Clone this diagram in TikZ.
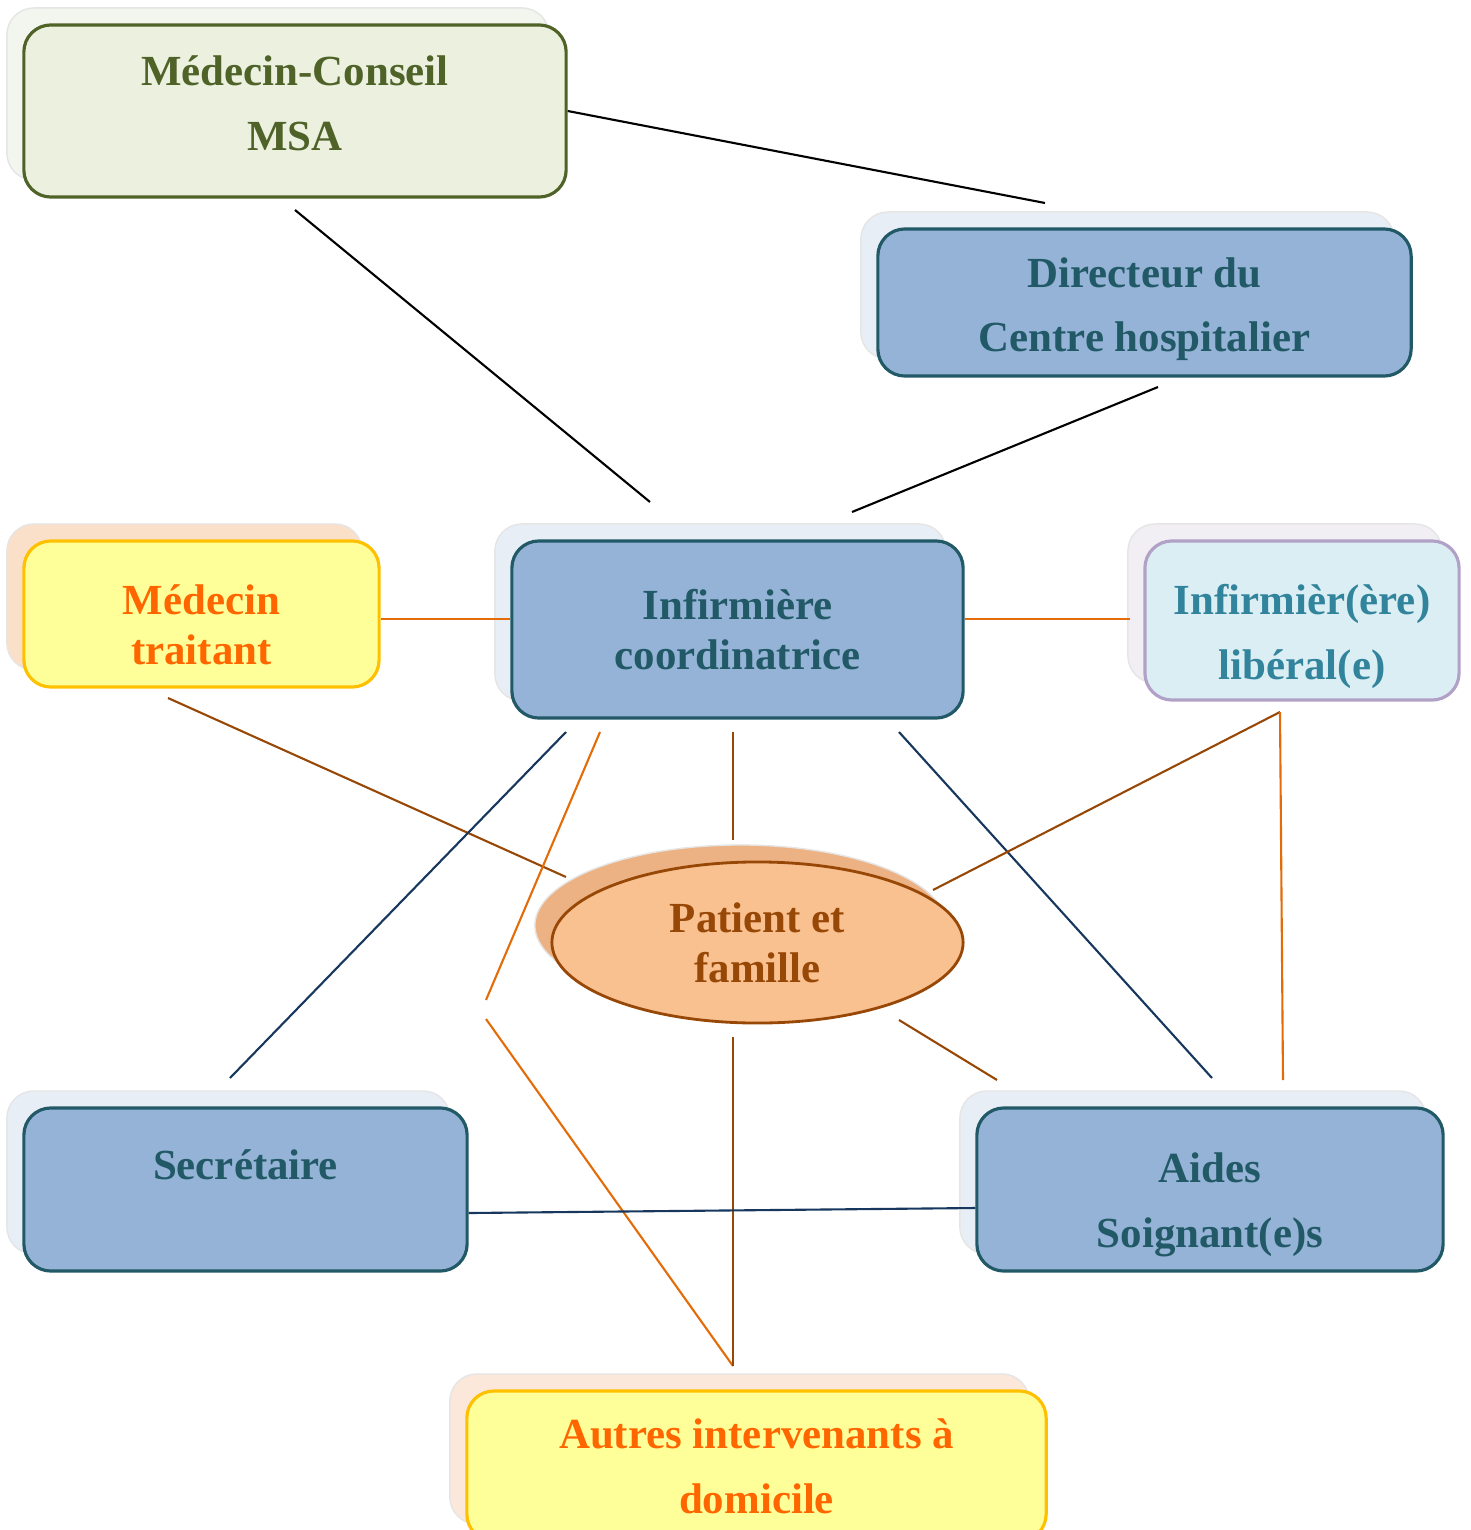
\documentclass[tikz,border=0pt]{standalone}
\usepackage{fontspec}
\setmainfont{Liberation Serif}
\usetikzlibrary{shapes.geometric,shadows}
\definecolor{msafill}{HTML}{EBF1DE}
\definecolor{msaline}{HTML}{4F6228}
\definecolor{msashade}{HTML}{F3F6EE}
\definecolor{bluefill}{HTML}{95B3D7}
\definecolor{blueline}{HTML}{215967}
\definecolor{blueshade}{HTML}{E8EEF6}
\definecolor{yelfill}{HTML}{FFFF99}
\definecolor{yelline}{HTML}{FFC000}
\definecolor{yeltext}{HTML}{FF6600}
\definecolor{peachshade}{HTML}{FBE0C9}
\definecolor{autreshade}{HTML}{FBE8DB}
\definecolor{libfill}{HTML}{DBEEF4}
\definecolor{libline}{HTML}{B2A1C7}
\definecolor{libtext}{HTML}{31849B}
\definecolor{libshade}{HTML}{F1EFF4}
\definecolor{patfill}{HTML}{F9C090}
\definecolor{patline}{HTML}{984806}
\definecolor{patshade}{HTML}{EDB283}
\definecolor{orangeline}{HTML}{E36C09}
\definecolor{navyline}{HTML}{17375E}
% invisible struts to push a text block down (top) or up (bot)
\newcommand\padtop[1]{\rule{0pt}{#1}}
\newcommand\padbot[1]{\rule[-#1]{0pt}{#1}}
\tikzset{every node/.style={font=\fontsize{12.2}{14.2}\selectfont\bfseries, align=center, inner sep=2pt},
         shade/.style={general shadow={shadow xshift=-0.17cm, shadow yshift=0.17cm, fill=#1, draw=black!10, line width=0.4pt}},
         box/.style={rectangle, rounded corners=0.27cm, line width=0.9pt},
         msabox/.style={box, fill=msafill, draw=msaline, text=msaline, shade=msashade},
         bluebox/.style={box, fill=bluefill, draw=blueline, text=blueline, shade=blueshade},
         yelbox/.style={box, fill=yelfill, draw=yelline, text=yeltext, shade=#1},
         libbox/.style={box, fill=libfill, draw=libline, text=libtext, shade=libshade},
         link/.style={line width=0.6pt}}

\begin{document}
\begin{tikzpicture}[x=0.01cm,y=-0.01cm]
   \useasboundingbox (0,0) rectangle (1471,1530);
   % boxes
   \node[msabox,  minimum width=5.42cm, minimum height=1.72cm] (msa)    at (295,111)    {Médecin-Conseil\\[4.2pt]MSA\padbot{0.16cm}};
   \node[bluebox, minimum width=5.33cm, minimum height=1.47cm] (dir)    at (1144.5,302.5) {\padtop{0.43cm}Directeur du\\[4.2pt]Centre hospitalier};
   \node[yelbox=peachshade, minimum width=3.55cm, minimum height=1.46cm] (medt) at (201.5,614) {\padtop{0.52cm}Médecin\\traitant};
   \node[bluebox, minimum width=4.51cm, minimum height=1.77cm] (ide)    at (737.5,629.5) {Infirmière\\coordinatrice};
   \node[libbox,  minimum width=3.14cm, minimum height=1.59cm] (idel)   at (1302,620.5) {\padtop{0.62cm}Infirmièr(ère)\\[4.2pt]libéral(e)};
   \node[ellipse, fill=patfill, draw=patline, text=patline, line width=0.8pt, shade=patshade,
         minimum width=4.11cm, minimum height=1.61cm]            (pat)    at (757.5,942.5) {Patient et\\famille};
   \node[bluebox, minimum width=4.43cm, minimum height=1.63cm, text depth=0.50cm] (sec) at (245.5,1189.5) {Secrétaire};
   \node[bluebox, minimum width=4.66cm, minimum height=1.63cm] (aides)  at (1210,1189.5) {\padtop{0.61cm}Aides\\[4.2pt]Soignant(e)s};
   \node[yelbox=autreshade, minimum width=5.79cm, minimum height=1.50cm] (autres) at (756.5,1466) {Autres intervenants à\\[4.2pt]domicile};
   % free ends
   \coordinate (dirtop)    at (1045,203);
   \coordinate (msabot)    at (295,210);
   \coordinate (idetopl)   at (650,502);
   \coordinate (dirbot)    at (1158,387);
   \coordinate (idetopr)   at (852,512);
   \coordinate (idelleft)  at (1130,619);
   \coordinate (medtbot)   at (168,698);
   \coordinate (patnw)     at (566,877);
   \coordinate (idebl)     at (566,732);
   \coordinate (secup)     at (230,1078);
   \coordinate (idebm)     at (600,732);
   \coordinate (bendup)    at (486,1000);
   \coordinate (benddown)  at (486,1019);
   \coordinate (autrestop) at (733,1366);
   \coordinate (idebc)     at (733,732);
   \coordinate (pattop)    at (733,840);
   \coordinate (idebr)     at (899,732);
   \coordinate (aidesupl)  at (1212,1078);
   \coordinate (idelbot)   at (1280,712);
   \coordinate (patne)     at (933,890);
   \coordinate (aidesupr)  at (1283,1080);
   \coordinate (patse)     at (899,1020);
   \coordinate (aidesnw)   at (997,1080);
   \coordinate (patbot)    at (733,1037);
   % links
   \draw[link,black] (msa.east) -- (dirtop);
   \draw[link,black] (msabot) -- (idetopl);
   \draw[link,black] (dirbot) -- (idetopr);
   \draw[link,orangeline] (idelleft -| medt.east) -- (idelleft -| ide.west);
   \draw[link,orangeline] (idelleft -| ide.east) -- (idelleft);
   \draw[link,patline] (medtbot) -- (patnw);
   \draw[link,navyline] (idebl) -- (secup);
   \draw[link,orangeline] (idebm) -- (bendup);
   \draw[link,orangeline] (benddown) -- (autrestop);
   \draw[link,patline] (idebc) -- (pattop);
   \draw[link,navyline] (idebr) -- (aidesupl);
   \draw[link,patline] (idelbot) -- (patne);
   \draw[link,orangeline] (idelbot) -- (aidesupr);
   \draw[link,patline] (patse) -- (aidesnw);
   \draw[link,patline] (patbot) -- (autrestop);
   \draw[link,navyline] ([yshift=-0.235cm]sec.east) -- ([yshift=-0.185cm]aides.west);
  \end{tikzpicture}
\end{document}
